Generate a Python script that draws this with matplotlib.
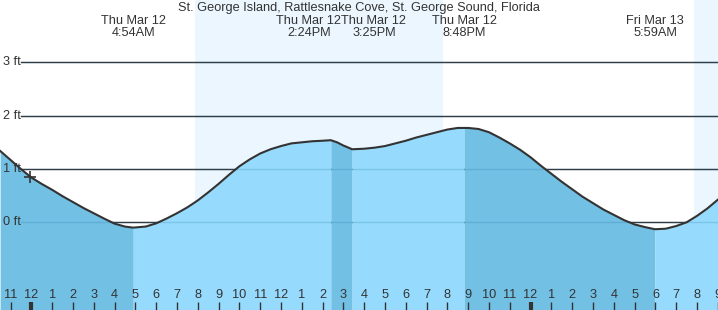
import matplotlib.pyplot as plt
import numpy as np

plt.rcParams['font.family'] = ['Liberation Sans', 'DejaVu Sans']

title = 'St. George Island, Rattlesnake Cove, St. George Sound, Florida'

# hours counted from midnight Thu Mar 12, tide height in ft
tide_hours = [-1.5, -1, -0.5, 0, 0.5, 1, 1.5, 2, 2.5, 3, 3.5, 4, 4.5, 4.9,
              5.5, 6, 6.5, 7, 7.5, 8, 8.5, 9, 9.5, 10, 10.5, 11, 11.5, 12,
              12.5, 13, 13.5, 14, 14.4, 14.7, 15.0, 15.25, 15.42, 16, 16.5,
              17, 17.5, 18, 18.5, 19, 19.5, 20, 20.5, 20.8, 21, 21.5, 22,
              22.5, 23, 23.5, 24, 24.5, 25, 25.5, 26, 26.5, 27, 27.5, 28,
              28.5, 29, 29.5, 29.98, 30.5, 31, 31.5, 32, 32.5, 33.05]
tide_ft = [1.34, 1.17, 1.00, 0.84, 0.72, 0.61, 0.49, 0.38, 0.27, 0.17,
           0.07, -0.025, -0.08, -0.10, -0.08, -0.02, 0.07, 0.17, 0.28, 0.41,
           0.56, 0.72, 0.89, 1.05, 1.18, 1.29, 1.37, 1.43, 1.48, 1.50, 1.52,
           1.53, 1.54, 1.50, 1.44, 1.40, 1.37, 1.38, 1.40, 1.43, 1.48, 1.53,
           1.59, 1.64, 1.69, 1.74, 1.77, 1.77, 1.77, 1.75, 1.69, 1.59, 1.48,
           1.36, 1.22, 1.06, 0.91, 0.76, 0.62, 0.48, 0.36, 0.24, 0.14, 0.04,
           -0.04, -0.09, -0.13, -0.12, -0.07, 0.0, 0.12, 0.26, 0.44]

# high / low tides
extreme_hours = [4.9, 14.4, 15.42, 20.8, 29.98]
extreme_days = ['Thu Mar 12', 'Thu Mar 12', 'Thu Mar 12', 'Thu Mar 12', 'Fri Mar 13']
extreme_times = ['4:54AM', '2:24PM', '3:25PM', '8:48PM', '5:59AM']

sunrise_hours = [7.87, 31.85]
sunset_hours = [19.79, 43.8]

ft_levels = [0, 1, 2, 3]
now_hour, now_ft = -0.06, 0.85

night_color = '#efefef'
day_color = '#ebf6fe'
fall_color = '#73c0e5'
rise_color = '#96dbfd'
ink = '#333333'

x_lo, x_hi = -1.505, 33.01
y_lo, y_hi = -1.645, 4.17
fs = 9.2

fig = plt.figure(figsize=(7.18, 3.10), dpi=100)
ax = fig.add_axes([0, 0, 1, 1])
ax.set_xlim(x_lo, x_hi)
ax.set_ylim(y_lo, y_hi)
ax.set_facecolor(night_color)
ax.axis('off')

for rise, sset in zip(sunrise_hours, sunset_hours):
    ax.axvspan(rise, sset, color=day_color, lw=0, zorder=0)

# grid lines behind the water, faint again on top of it
for lvl in ft_levels:
    ax.axhline(lvl, xmin=21 / 718, xmax=1, color=ink, lw=1, zorder=1)
    ax.axhline(lvl, xmin=21 / 718, xmax=1, color='#1f6e9c', lw=1,
               alpha=0.22, zorder=3)
    ax.text(3 / 718, lvl, f'{lvl} ft', transform=ax.get_yaxis_transform(),
            ha='left', va='center', fontsize=fs, color=ink, zorder=5)

# water, split at each high / low
hrs = np.array(tide_hours)
ft = np.array(tide_ft)
bounds = [hrs[0]] + extreme_hours + [hrs[-1]]
falling = ft[1] < ft[0]
for a, b in zip(bounds[:-1], bounds[1:]):
    m = (hrs >= a) & (hrs <= b)
    ax.fill_between(hrs[m], y_lo, ft[m], color=fall_color if falling else rise_color,
                    lw=0, zorder=2)
    falling = not falling

ax.plot(hrs, ft, color=ink, lw=1.5, zorder=4, solid_joinstyle='round')
ax.plot([now_hour], [now_ft], marker='+', ms=8, mew=1.2, color=ink, zorder=5)

# labels for highs and lows, pushed apart when two are close
for i, (h, d, t) in enumerate(zip(extreme_hours, extreme_days, extreme_times)):
    x, ha = h, 'center'
    if i + 1 < len(extreme_hours) and extreme_hours[i + 1] - h < 3:
        x, ha = (h + extreme_hours[i + 1]) / 2, 'right'
    elif i > 0 and h - extreme_hours[i - 1] < 3:
        x, ha = (h + extreme_hours[i - 1]) / 2, 'left'
    ax.text(x, 1 - 27 / 310, f'{d}\n{t}', transform=ax.get_xaxis_transform(),
            ha=ha, va='center', multialignment='center', fontsize=fs,
            color=ink, linespacing=0.95, zorder=6)

ax.text(0.5, 1 - 7.5 / 310, title, transform=ax.transAxes, ha='center',
        va='center', fontsize=fs, color=ink, zorder=6)

# hour ticks along the bottom
for h in range(-1, 34):
    lab = h % 12 or 12
    ax.vlines(h, 0, 8 / 310, transform=ax.get_xaxis_transform(), color=ink,
              lw=3 if h % 24 == 0 else 1, zorder=6)
    ax.text(h, 1 - 295 / 310, str(lab), transform=ax.get_xaxis_transform(),
            ha='center', va='center', fontsize=fs, color=ink, zorder=6)

fig.savefig('out.png', dpi=100)
